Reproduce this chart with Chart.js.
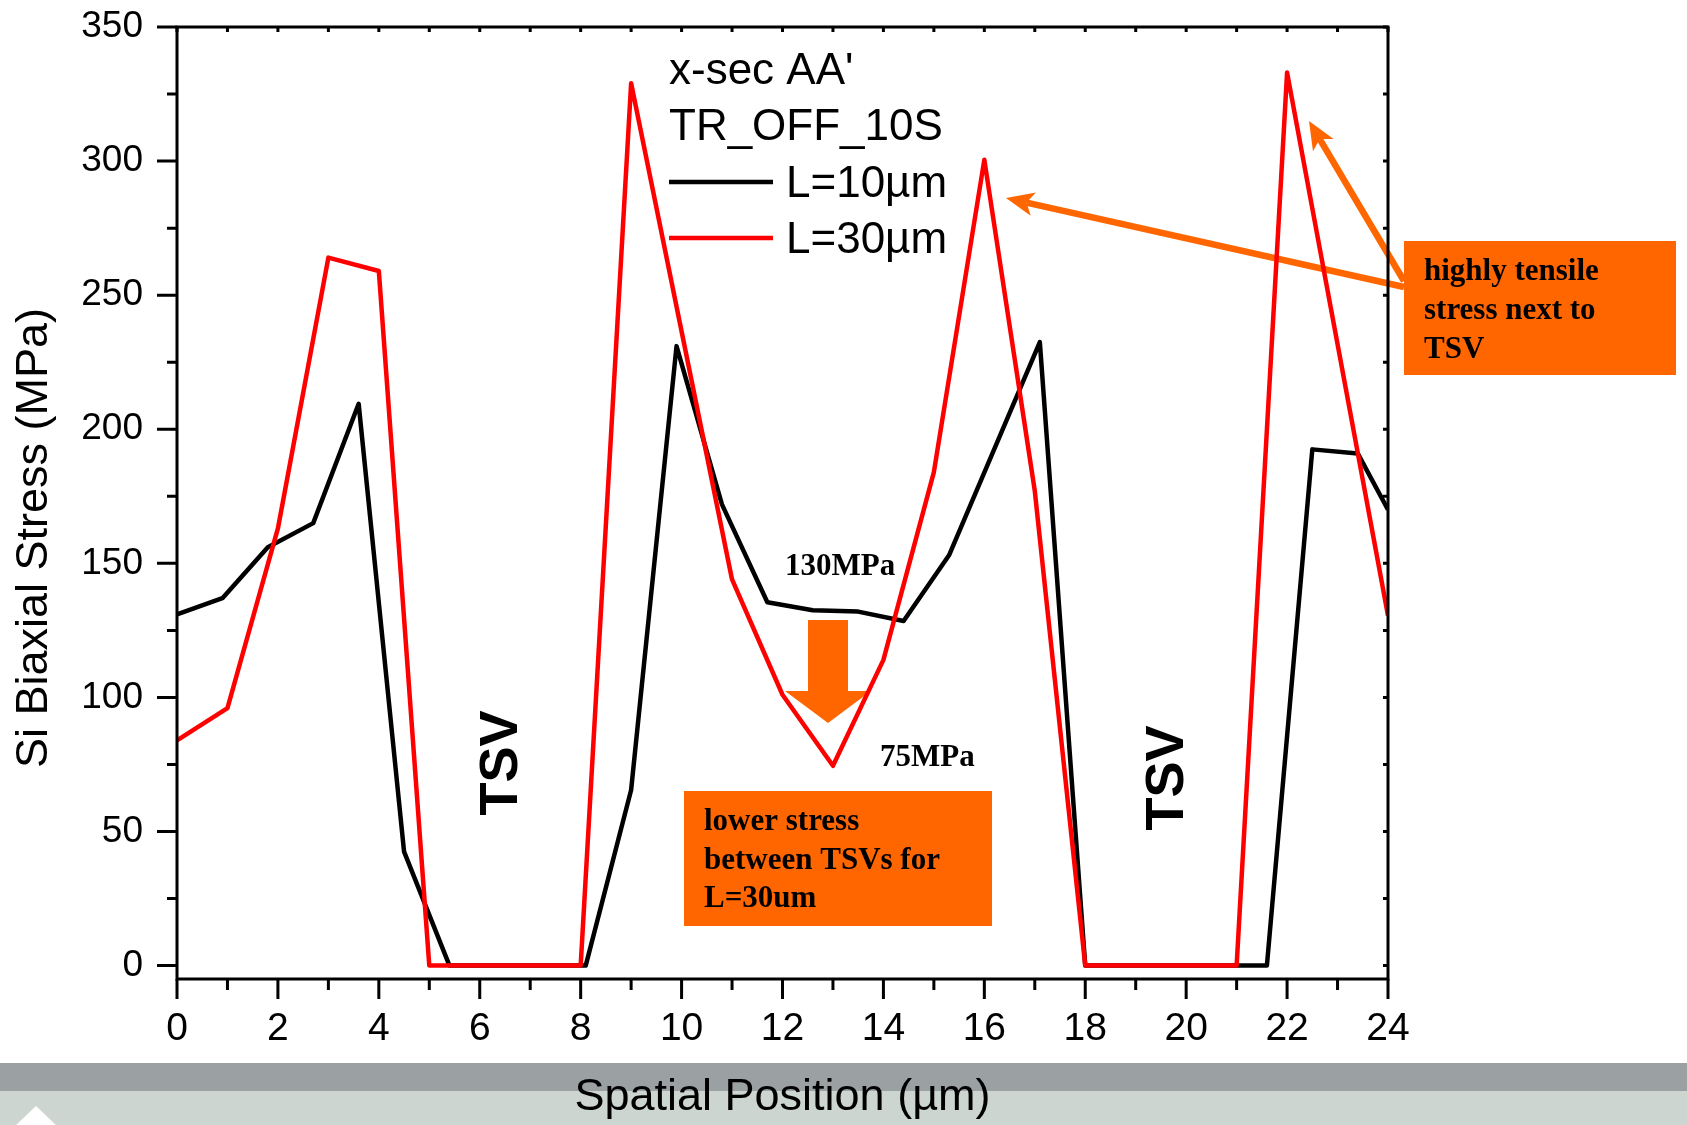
<!DOCTYPE html>
<html lang="en">
<head>
<meta charset="UTF-8">
<title>Si Biaxial Stress - x-sec AA'</title>
<style>
  html, body { margin: 0; padding: 0; background: #fff; }
  #wrap { width: 1687px; height: 1125px; }
</style>
</head>
<body>
<div id="wrap"><canvas id="chart" width="1687" height="1125"></canvas></div>

<script src="https://cdn.jsdelivr.net/npm/chart.js"></script>
<script>
    // L=10um (black)
    const xL10 = [0, 0.9, 1.8, 2.7, 3.6, 4.5, 5.4, 8.1, 9.0, 9.9, 10.8, 11.7, 12.6, 13.5, 14.4, 15.3, 17.1, 18.0, 21.6, 22.5, 23.4, 24];
    const yL10 = [131, 137, 156, 165, 209.5, 42.5, 0, 0, 65.5, 231, 172, 135.5, 132.5, 132, 128.5, 153, 232.5, 0, 0, 192.5, 191, 170];

    // L=30um (red)
    const xL30 = [0, 1, 2, 3, 4, 5, 8, 9, 11, 12, 13, 14, 15, 16, 17, 18, 21, 22, 24];
    const yL30 = [84, 96, 163, 264, 259, 0, 0, 329, 144, 101, 74.5, 114, 184, 300.5, 177, 0, 0, 333, 130.5];

    const seriesLabels = ['L=10µm', 'L=30µm'];
    const xTicks = [0, 2, 4, 6, 8, 10, 12, 14, 16, 18, 20, 22, 24];
    const xMinorTicks = [1, 3, 5, 7, 9, 11, 13, 15, 17, 19, 21, 23];
    const yTicks = [0, 50, 100, 150, 200, 250, 300, 350];
    const yMinorTicks = [25, 75, 125, 175, 225, 275, 325];

    const SANS = '"Liberation Sans", Arial, sans-serif';
    const SERIF = '"Liberation Serif", "Times New Roman", serif';
    const ORANGE = '#ff6600';

    function toPoints(xs, ys) {
        return xs.map((x, i) => ({ x: x, y: ys[i] }));
    }

    // orange arrow with a notched head
    function arrow(ctx, x1, y1, x2, y2) {
        const a = Math.atan2(y2 - y1, x2 - x1);
        const len = 28, half = 12;
        const bx = x2 - len * Math.cos(a), by = y2 - len * Math.sin(a);
        const nx = x2 - len * 0.75 * Math.cos(a), ny = y2 - len * 0.75 * Math.sin(a);
        ctx.strokeStyle = ORANGE;
        ctx.lineWidth = 6.5;
        ctx.beginPath();
        ctx.moveTo(x1, y1);
        ctx.lineTo(nx, ny);
        ctx.stroke();
        ctx.fillStyle = ORANGE;
        ctx.beginPath();
        ctx.moveTo(x2, y2);
        ctx.lineTo(bx + half * Math.sin(a), by - half * Math.cos(a));
        ctx.lineTo(nx, ny);
        ctx.lineTo(bx - half * Math.sin(a), by + half * Math.cos(a));
        ctx.closePath();
        ctx.fill();
    }

    const decor = {
        id: 'decor',
        beforeDraw(chart) {
            const { ctx, width, height } = chart;
            ctx.save();
            ctx.fillStyle = '#fff';
            ctx.fillRect(0, 0, width, height);
            // grey bars at the bottom of the slide
            ctx.fillStyle = '#9ba1a3';
            ctx.fillRect(0, 1063, width, 28);
            ctx.fillStyle = '#ccd5d0';
            ctx.fillRect(0, 1091, width, height - 1091);
            ctx.fillStyle = '#fff';
            ctx.beginPath();
            ctx.moveTo(36, 1106);
            ctx.lineTo(56, 1125);
            ctx.lineTo(16, 1125);
            ctx.closePath();
            ctx.fill();
            ctx.restore();
        },
        beforeDatasetsDraw(chart) {
            const ctx = chart.ctx;
            ctx.save();
            arrow(ctx, 1404, 287, 1006, 198);
            arrow(ctx, 1404, 281, 1309, 121);
            // down arrow between the two curves
            ctx.fillStyle = ORANGE;
            ctx.beginPath();
            ctx.moveTo(808, 620);
            ctx.lineTo(848, 620);
            ctx.lineTo(848, 691);
            ctx.lineTo(871, 691);
            ctx.lineTo(828, 723);
            ctx.lineTo(785, 691);
            ctx.lineTo(808, 691);
            ctx.closePath();
            ctx.fill();
            ctx.restore();
        },
        afterDraw(chart) {
            const { ctx, chartArea: ca } = chart;
            const xs = chart.scales.x, ys = chart.scales.y;
            ctx.save();
            ctx.strokeStyle = '#000';
            ctx.lineWidth = 3;
            ctx.strokeRect(ca.left, ca.top, ca.right - ca.left, ca.bottom - ca.top);

            ctx.beginPath();
            yTicks.forEach(v => { const p = ys.getPixelForValue(v); ctx.moveTo(ca.left - 20, p); ctx.lineTo(ca.left, p); });
            yMinorTicks.forEach(v => { const p = ys.getPixelForValue(v); ctx.moveTo(ca.left - 10, p); ctx.lineTo(ca.left, p); });
            xTicks.forEach(v => { const p = xs.getPixelForValue(v); ctx.moveTo(p, ca.bottom); ctx.lineTo(p, ca.bottom + 20); });
            xMinorTicks.forEach(v => { const p = xs.getPixelForValue(v); ctx.moveTo(p, ca.bottom); ctx.lineTo(p, ca.bottom + 11); });
            // small inward ticks on top and right
            xTicks.concat(xMinorTicks).forEach(v => { const p = xs.getPixelForValue(v); ctx.moveTo(p, ca.top); ctx.lineTo(p, ca.top + 5); });
            yTicks.concat(yMinorTicks).forEach(v => { const p = ys.getPixelForValue(v); ctx.moveTo(ca.right - 5, p); ctx.lineTo(ca.right, p); });
            ctx.stroke();

            // y axis title
            ctx.fillStyle = '#000';
            ctx.save();
            ctx.translate(35, 538);
            ctx.rotate(-Math.PI / 2);
            ctx.font = '45px ' + SANS;
            ctx.textAlign = 'center';
            ctx.textBaseline = 'middle';
            ctx.fillText('Si Biaxial Stress (MPa)', 0, 0);
            ctx.restore();

            // legend block
            ctx.font = '44px ' + SANS;
            ctx.textAlign = 'left';
            ctx.textBaseline = 'alphabetic';
            ctx.fillText("x-sec AA'", 669, 83.5);
            ctx.fillText('TR_OFF_10S', 669, 139.5);
            const rows = [182, 238];
            chart.data.datasets.forEach((ds, i) => {
                ctx.strokeStyle = ds.borderColor;
                ctx.lineWidth = 4.5;
                ctx.beginPath();
                ctx.moveTo(669, rows[i]);
                ctx.lineTo(773, rows[i]);
                ctx.stroke();
                ctx.fillStyle = '#000';
                ctx.fillText(ds.label, 786, rows[i] + 15);
            });

            // TSV labels
            ctx.font = 'bold 54px ' + SANS;
            ctx.textAlign = 'center';
            ctx.textBaseline = 'middle';
            [[502, 763], [1168, 778]].forEach(p => {
                ctx.save();
                ctx.translate(p[0], p[1]);
                ctx.rotate(-Math.PI / 2);
                ctx.fillText('TSV', 0, 0);
                ctx.restore();
            });

            // callouts
            ctx.textAlign = 'left';
            ctx.textBaseline = 'alphabetic';
            ctx.font = 'bold 31px ' + SERIF;
            ctx.fillText('130MPa', 785, 575);
            ctx.fillText('75MPa', 880, 766);

            ctx.fillStyle = ORANGE;
            ctx.fillRect(684, 791, 308, 135);
            ctx.fillRect(1404, 241, 272, 134);
            ctx.fillStyle = '#000';
            ctx.fillText('lower stress', 704, 830);
            ctx.fillText('between TSVs for', 704, 869);
            ctx.fillText('L=30um', 704, 907);
            ctx.fillText('highly tensile', 1424, 280);
            ctx.fillText('stress next to', 1424, 319);
            ctx.fillText('TSV', 1424, 358);
            ctx.restore();
        }
    };

    new Chart(document.getElementById('chart').getContext('2d'), {
        type: 'line',
        data: {
            datasets: [
                { label: seriesLabels[0], data: toPoints(xL10, yL10), borderColor: '#000000', borderWidth: 4.5, borderJoinStyle: 'round', pointRadius: 0, tension: 0, fill: false, order: 1 },
                { label: seriesLabels[1], data: toPoints(xL30, yL30), borderColor: '#ff0000', borderWidth: 4.5, borderJoinStyle: 'round', pointRadius: 0, tension: 0, fill: false, order: 0 }
            ]
        },
        options: {
            responsive: false,
            animation: false,
            devicePixelRatio: 1,
            layout: { padding: { left: 0, right: 299, top: 27, bottom: 0 } },
            plugins: { legend: { display: false }, tooltip: { enabled: false } },
            scales: {
                x: {
                    type: 'linear', min: 0, max: 24,
                    afterFit: s => { s.height = 146; s.paddingLeft = 0; s.paddingRight = 0; },
                    afterBuildTicks: s => { s.ticks = xTicks.map(v => ({ value: v })); },
                    grid: { display: false, drawTicks: false },
                    border: { display: false },
                    ticks: { color: '#000', font: { family: SANS, size: 39 }, padding: 27, maxRotation: 0, autoSkip: false, callback: v => String(v) },
                    title: { display: true, text: 'Spatial Position (µm)', color: '#000', font: { family: SANS, size: 45 }, padding: 0 }
                },
                y: {
                    min: -5, max: 350,
                    afterFit: s => { s.width = 177; s.paddingTop = 0; s.paddingBottom = 0; },
                    afterBuildTicks: s => { s.ticks = yTicks.map(v => ({ value: v })); },
                    grid: { display: false, drawTicks: false },
                    border: { display: false },
                    ticks: { color: '#000', font: { family: SANS, size: 37 }, padding: 34, autoSkip: false, callback: v => String(v) }
                }
            }
        },
        plugins: [decor]
    });
</script>
</body>
</html>
